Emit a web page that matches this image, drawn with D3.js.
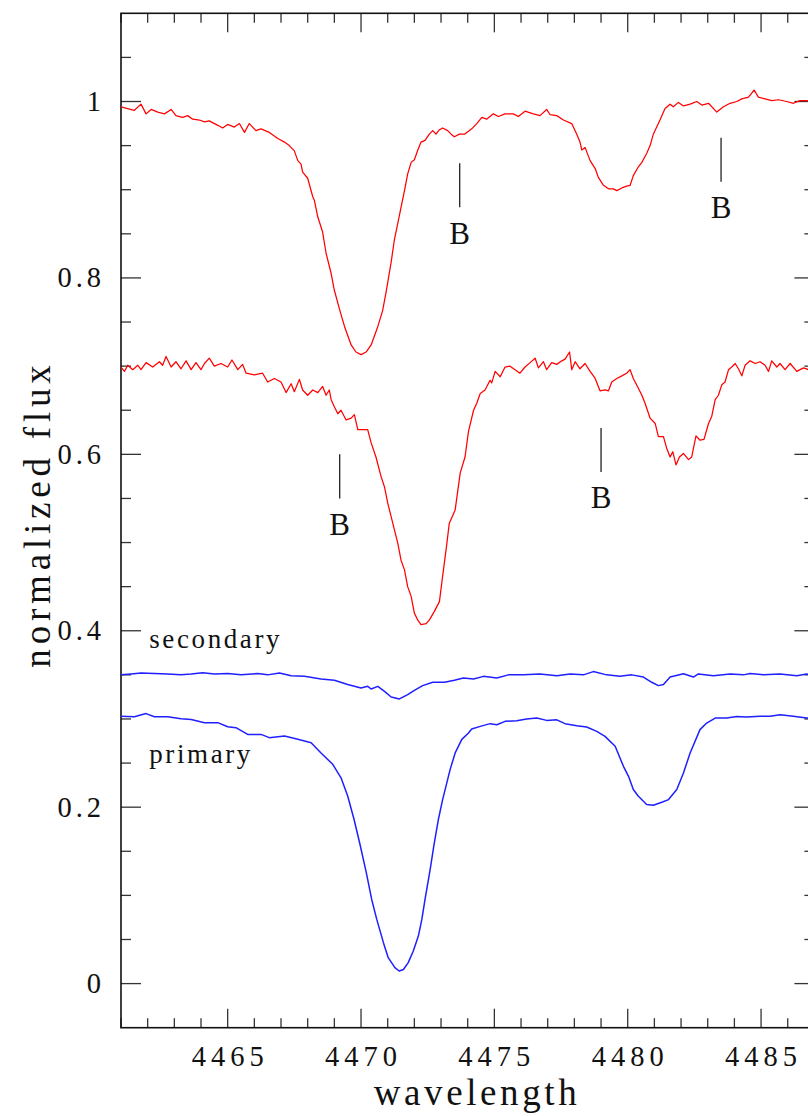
<!DOCTYPE html>
<html><head><meta charset="utf-8">
<script src="https://cdn.jsdelivr.net/npm/d3@7"></script>
<style>html,body{margin:0;padding:0;background:#fff;overflow:hidden}</style>
</head><body>
<svg id="chart" width="808" height="1116"></svg>
<script>
// ---- data (wavelength in Å, normalized flux) ----
const topWave = [4461.00,4461.25,4461.50,4461.75,4461.94,4462.13,4462.38,4462.63,4462.88,4463.06,4463.31,4463.50,4463.69,4463.94,4464.13,4464.31,4464.63,4464.81,4465.00,4465.25,4465.44,4465.63,4465.81,4466.06,4466.25,4466.56,4466.88,4467.13,4467.31,4467.50,4467.63,4467.75,4467.81,4468.00,4468.19,4468.25,4468.38,4468.56,4468.69,4468.88,4469.00,4469.19,4469.38,4469.63,4469.81,4470.00,4470.19,4470.38,4470.63,4470.81,4470.94,4471.13,4471.25,4471.38,4471.50,4471.63,4471.75,4471.88,4472.00,4472.13,4472.25,4472.40,4472.56,4472.69,4472.81,4472.94,4473.06,4473.25,4473.38,4473.50,4473.69,4473.88,4474.15,4474.34,4474.53,4474.71,4474.96,4475.15,4475.40,4475.71,4475.90,4476.15,4476.46,4476.71,4476.96,4477.09,4477.34,4477.59,4477.90,4478.09,4478.21,4478.28,4478.40,4478.59,4478.78,4478.90,4479.09,4479.28,4479.46,4479.59,4479.78,4479.96,4480.09,4480.21,4480.40,4480.53,4480.71,4480.84,4480.96,4481.21,4481.40,4481.59,4481.71,4481.90,4482.09,4482.34,4482.59,4482.78,4483.03,4483.34,4483.59,4483.84,4484.09,4484.28,4484.53,4484.74,4484.90,4485.15,4485.40,4485.65,4485.96,4486.21,4486.46,4486.71,4487.00];
const topFlux = [0.994,0.992,0.990,0.997,0.986,0.991,0.988,0.986,0.991,0.984,0.982,0.984,0.980,0.979,0.977,0.978,0.973,0.970,0.974,0.971,0.975,0.965,0.975,0.967,0.969,0.965,0.958,0.954,0.950,0.944,0.933,0.929,0.920,0.913,0.892,0.888,0.869,0.852,0.828,0.805,0.786,0.765,0.745,0.724,0.716,0.713,0.716,0.724,0.745,0.763,0.784,0.818,0.843,0.862,0.880,0.899,0.918,0.931,0.934,0.945,0.954,0.956,0.963,0.967,0.963,0.968,0.970,0.967,0.963,0.960,0.963,0.963,0.969,0.975,0.982,0.980,0.986,0.983,0.986,0.986,0.983,0.989,0.986,0.984,0.991,0.985,0.984,0.979,0.975,0.963,0.954,0.945,0.948,0.933,0.924,0.914,0.905,0.901,0.901,0.899,0.902,0.904,0.905,0.916,0.926,0.931,0.941,0.950,0.963,0.979,0.992,0.997,0.994,0.999,0.995,0.997,1.000,0.996,0.998,0.988,0.994,0.998,1.000,1.003,1.005,1.013,1.005,1.003,1.001,1.002,1.000,0.998,1.001,1.001,1.000];

const midWave = [4461.00,4461.13,4461.25,4461.44,4461.63,4461.75,4461.94,4462.19,4462.44,4462.56,4462.69,4462.88,4463.06,4463.25,4463.44,4463.63,4463.81,4464.00,4464.13,4464.31,4464.50,4464.75,4465.00,4465.16,4465.38,4465.56,4465.69,4466.00,4466.31,4466.50,4466.75,4467.00,4467.19,4467.38,4467.50,4467.69,4467.81,4468.00,4468.19,4468.38,4468.56,4468.69,4468.81,4468.88,4469.00,4469.13,4469.25,4469.44,4469.63,4469.75,4469.88,4470.06,4470.25,4470.38,4470.56,4470.75,4470.88,4471.00,4471.19,4471.38,4471.50,4471.63,4471.75,4471.88,4472.00,4472.13,4472.25,4472.44,4472.56,4472.75,4472.94,4473.06,4473.19,4473.31,4473.53,4473.72,4473.90,4474.03,4474.22,4474.34,4474.47,4474.65,4474.84,4474.90,4475.03,4475.22,4475.40,4475.59,4475.96,4476.15,4476.34,4476.53,4476.65,4476.84,4476.96,4477.15,4477.34,4477.53,4477.65,4477.82,4477.90,4478.03,4478.21,4478.40,4478.59,4478.78,4478.96,4479.15,4479.28,4479.40,4479.59,4479.78,4479.96,4480.09,4480.21,4480.40,4480.53,4480.65,4480.84,4481.03,4481.15,4481.34,4481.46,4481.59,4481.69,4481.81,4481.94,4482.09,4482.28,4482.40,4482.56,4482.71,4482.86,4483.03,4483.15,4483.28,4483.40,4483.53,4483.65,4483.78,4483.90,4484.03,4484.15,4484.28,4484.40,4484.59,4484.78,4484.96,4485.15,4485.28,4485.40,4485.59,4485.71,4485.90,4486.09,4486.34,4486.59,4486.78,4487.00];
const midFlux = [0.699,0.694,0.701,0.696,0.701,0.696,0.704,0.699,0.705,0.701,0.711,0.699,0.705,0.697,0.706,0.696,0.704,0.696,0.703,0.709,0.700,0.703,0.699,0.707,0.696,0.702,0.692,0.690,0.692,0.682,0.686,0.682,0.670,0.680,0.671,0.685,0.673,0.667,0.673,0.670,0.677,0.667,0.673,0.662,0.654,0.646,0.650,0.639,0.641,0.645,0.628,0.628,0.628,0.613,0.597,0.575,0.563,0.545,0.522,0.499,0.480,0.469,0.450,0.439,0.420,0.412,0.407,0.408,0.412,0.422,0.433,0.462,0.492,0.522,0.537,0.579,0.597,0.626,0.650,0.658,0.669,0.673,0.684,0.681,0.694,0.688,0.699,0.700,0.692,0.699,0.704,0.709,0.698,0.705,0.696,0.704,0.702,0.706,0.708,0.716,0.696,0.705,0.697,0.703,0.694,0.686,0.672,0.673,0.672,0.682,0.686,0.689,0.692,0.696,0.686,0.675,0.667,0.658,0.641,0.635,0.620,0.620,0.607,0.597,0.603,0.588,0.597,0.601,0.594,0.597,0.621,0.616,0.617,0.635,0.643,0.662,0.667,0.679,0.682,0.696,0.699,0.703,0.697,0.689,0.701,0.706,0.703,0.705,0.701,0.694,0.706,0.699,0.703,0.696,0.703,0.694,0.698,0.696,0.699];

const secWave = [4461.00,4461.38,4461.75,4462.25,4462.75,4463.25,4463.63,4464.06,4464.50,4465.00,4465.50,4466.13,4466.50,4466.94,4467.38,4467.88,4468.50,4469.00,4469.50,4470.00,4470.25,4470.38,4470.63,4470.88,4471.13,4471.44,4471.75,4472.00,4472.31,4472.69,4473.13,4473.50,4473.84,4474.22,4474.59,4475.09,4475.53,4476.09,4476.71,4477.34,4477.84,4478.34,4478.71,4479.21,4479.71,4480.15,4480.59,4480.90,4481.15,4481.34,4481.59,4482.09,4482.46,4482.65,4483.21,4483.84,4484.34,4484.59,4485.09,4485.71,4486.34,4486.71,4487.00];
const secFlux = [0.350,0.351,0.352,0.3515,0.351,0.350,0.351,0.3525,0.351,0.3515,0.350,0.3515,0.350,0.3522,0.349,0.3483,0.3453,0.3438,0.339,0.335,0.337,0.334,0.337,0.3313,0.3249,0.3227,0.3276,0.3325,0.3378,0.3416,0.3416,0.3438,0.3464,0.3453,0.3483,0.3464,0.350,0.350,0.3509,0.349,0.351,0.350,0.3537,0.350,0.3483,0.350,0.3475,0.3416,0.3378,0.339,0.3475,0.3513,0.3475,0.351,0.349,0.351,0.350,0.3515,0.350,0.351,0.349,0.351,0.350];

const priWave = [4461.00,4461.50,4461.94,4462.25,4462.75,4463.25,4463.63,4464.13,4464.63,4465.00,4465.31,4465.75,4466.25,4466.56,4467.13,4467.63,4468.13,4468.50,4468.94,4469.25,4469.50,4469.74,4469.96,4470.19,4470.40,4470.59,4470.84,4471.02,4471.27,4471.43,4471.59,4471.77,4471.96,4472.15,4472.28,4472.40,4472.59,4472.74,4472.90,4473.06,4473.34,4473.53,4473.78,4474.03,4474.15,4474.47,4474.84,4475.09,4475.40,4475.84,4476.21,4476.59,4476.96,4477.34,4477.65,4478.09,4478.46,4478.84,4479.15,4479.53,4479.84,4480.03,4480.21,4480.40,4480.71,4480.96,4481.28,4481.53,4481.84,4482.09,4482.34,4482.71,4482.96,4483.28,4483.71,4484.09,4484.46,4484.96,4485.34,4485.71,4486.21,4486.71,4487.00];
const priFlux = [0.303,0.3026,0.3061,0.3026,0.3026,0.3003,0.2995,0.2958,0.2958,0.2912,0.2901,0.2825,0.2825,0.2788,0.2807,0.2769,0.2731,0.2615,0.2486,0.2333,0.2126,0.186,0.158,0.127,0.0954,0.0728,0.0464,0.0294,0.0181,0.0143,0.016,0.0238,0.0369,0.0539,0.0728,0.0954,0.129,0.158,0.186,0.2086,0.2426,0.2615,0.2769,0.2841,0.2886,0.2916,0.2947,0.2935,0.2973,0.298,0.300,0.301,0.2984,0.299,0.2947,0.2924,0.2909,0.286,0.2803,0.269,0.2463,0.235,0.220,0.2124,0.203,0.2022,0.2056,0.2086,0.220,0.2388,0.2615,0.2879,0.2954,0.301,0.301,0.3029,0.3022,0.303,0.303,0.3048,0.303,0.301,0.302];

// blend markers
const bWave = [4473.7, 4483.5, 4469.2, 4479.0];
const bTop  = [0.930, 0.959, 0.600, 0.630];
const bLabel = ["B", "B", "B", "B"];

const seriesLabels = [{text:"secondary", w:4462.06, f:0.380}, {text:"primary", w:4462.06, f:0.250}];

const xTickMajor = [4465, 4470, 4475, 4480, 4485];
const yTickMajor = [0, 0.2, 0.4, 0.6, 0.8, 1];
const yTickLabels = ["0", "0.2", "0.4", "0.6", "0.8", "1"];

// ---- layout ----
const L = 121, R = 814.4, T = 13.3, B = 1027.7;
const x = d3.scaleLinear().domain([4461, 4487]).range([L, R]);
const y = d3.scaleLinear().domain([-0.05, 1.1]).range([B, T]);

const svg = d3.select("#chart");
const FONT = "'Liberation Serif', 'DejaVu Serif', serif";

svg.append("defs").append("clipPath").attr("id", "clip")
  .append("rect").attr("x", L).attr("y", T).attr("width", R - L).attr("height", B - T);

// ticks
const xMinor = d3.range(4461, 4488, 1);
const yMinor = d3.range(0, 23).map(i => +(-0.05 + i * 0.05).toFixed(2)).filter(v => v > -0.05 && v < 1.1);
const tickG = svg.append("g").attr("stroke", "#333").attr("stroke-width", 1.3);
xMinor.forEach(v => {
  const major = xTickMajor.includes(v);
  const len = major ? 19 : 9.5;
  tickG.append("line").attr("x1", x(v)).attr("x2", x(v)).attr("y1", B).attr("y2", B - len);
  tickG.append("line").attr("x1", x(v)).attr("x2", x(v)).attr("y1", T).attr("y2", T + len);
});
yMinor.forEach(v => {
  const major = yTickMajor.some(m => Math.abs(m - v) < 1e-6);
  const len = major ? 20 : 10;
  tickG.append("line").attr("y1", y(v)).attr("y2", y(v)).attr("x1", L).attr("x2", L + len);
  tickG.append("line").attr("y1", y(v)).attr("y2", y(v)).attr("x1", R).attr("x2", R - len);
});

// frame
svg.append("rect").attr("x", L).attr("y", T).attr("width", R - L).attr("height", B - T)
  .attr("fill", "none").attr("stroke", "#111").attr("stroke-width", 1.6);

// tick labels
svg.append("g").selectAll("text").data(xTickMajor).join("text")
  .attr("x", d => x(d) + 2.5).attr("y", 1065.5)
  .attr("text-anchor", "middle").attr("font-family", FONT).attr("font-size", 28.5)
  .attr("letter-spacing", 5).attr("fill", "#111").text(d => d);
svg.append("g").selectAll("text").data(yTickMajor).join("text")
  .attr("x", 105).attr("y", d => y(d) + 9.5)
  .attr("text-anchor", "end").attr("font-family", FONT).attr("font-size", 28.5)
  .attr("letter-spacing", 4).attr("fill", "#111").text((d, i) => yTickLabels[i]);

// axis titles
svg.append("text").attr("x", 477).attr("y", 1105).attr("text-anchor", "middle")
  .attr("font-family", FONT).attr("font-size", 37).attr("letter-spacing", 3.6)
  .attr("fill", "#111").text("wavelength");
svg.append("text").attr("transform", "translate(50,514) rotate(-90)").attr("text-anchor", "middle")
  .attr("font-family", FONT).attr("font-size", 37).attr("letter-spacing", 4.8)
  .attr("fill", "#111").text("normalized flux");

// spectra
const line = d3.line().x(d => x(d[0])).y(d => y(d[1]));
const plotG = svg.append("g").attr("clip-path", "url(#clip)");
const series = [
  {w: topWave, f: topFlux, c: "#ff0000", sw: 1.25},
  {w: midWave, f: midFlux, c: "#ff0000", sw: 1.25},
  {w: secWave, f: secFlux, c: "#1f1fff", sw: 1.5},
  {w: priWave, f: priFlux, c: "#1f1fff", sw: 1.5}
];
series.forEach(s => {
  plotG.append("path").datum(d3.zip(s.w, s.f)).attr("d", line)
    .attr("fill", "none").attr("stroke", s.c).attr("stroke-width", s.sw)
    .attr("stroke-linejoin", "round");
});

// B markers
bWave.forEach((w, i) => {
  svg.append("line").attr("x1", x(w)).attr("x2", x(w))
    .attr("y1", y(bTop[i])).attr("y2", y(bTop[i] - 0.05))
    .attr("stroke", "#222").attr("stroke-width", 1.3);
  svg.append("text").attr("x", x(w)).attr("y", y(bTop[i] - 0.091))
    .attr("text-anchor", "middle").attr("font-family", FONT).attr("font-size", 31)
    .attr("fill", "#111").text(bLabel[i]);
});

// series labels
seriesLabels.forEach(s => {
  svg.append("text").attr("x", x(s.w)).attr("y", y(s.f))
    .attr("font-family", FONT).attr("font-size", 27).attr("letter-spacing", 2.6)
    .attr("fill", "#111").text(s.text);
});
</script>
</body></html>
